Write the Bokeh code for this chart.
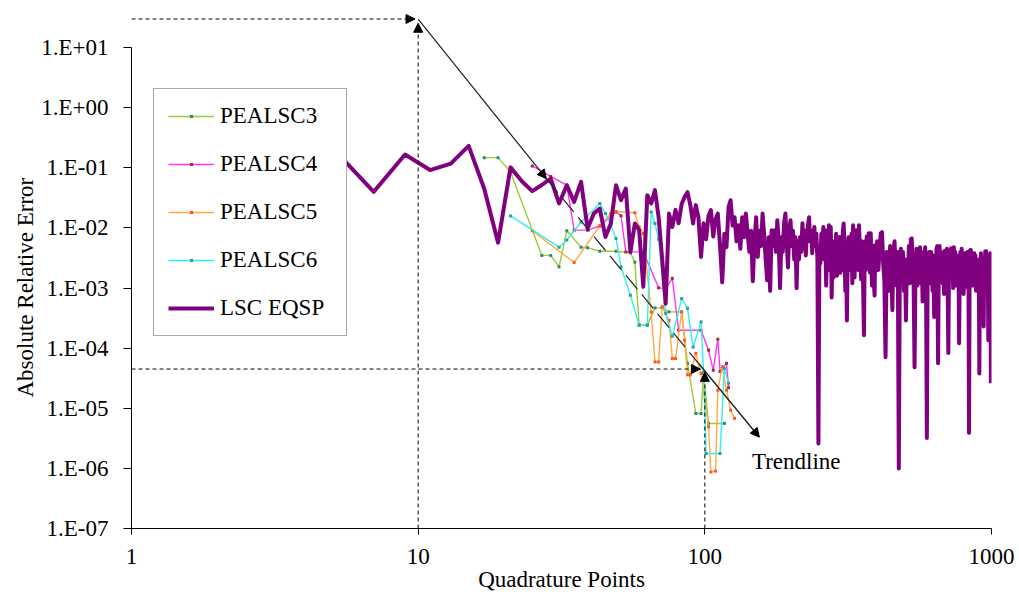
import math
from bokeh.plotting import figure
from bokeh.models import (Range1d, FixedTicker, CustomJSTickFormatter, Legend, LegendItem,
                          Arrow, NormalHead, Label, Title)
from bokeh.embed import file_html
from bokeh.resources import INLINE

FONT = "Liberation Serif"
FSIZE = "23px"

# ---------------- data ----------------
x_ticks = [1, 10, 100, 1000]
y_ticks = [1e-7, 1e-6, 1e-5, 1e-4, 1e-3, 1e-2, 1e-1, 1e0, 1e1]

pe3_x = [17, 19, 21, 27, 29, 31, 33, 37, 39, 43, 49, 55, 57, 59, 63, 67, 71, 75, 83, 87, 93, 97, 99, 103, 117]
pe3_y = [0.148, 0.148, 0.0857, 0.0035, 0.0035, 0.00225, 0.009, 0.0048, 0.0047, 0.0041, 0.0041, 0.00386,
         0.0027, 0.000242, 0.000242, 0.000469, 0.000469, 0.000402, 0.000402, 5.6e-5, 8.2e-6, 8.2e-6,
         3.8e-5, 5.6e-6, 5.6e-6]

pe4_x = [25, 29, 33, 35, 39, 43, 49, 51, 53, 61, 69, 73, 77, 81, 97, 103, 107, 111, 113, 119, 121]
pe4_y = [0.108, 0.072, 0.0515, 0.0092, 0.0092, 0.0108, 0.0185, 0.016, 0.0040, 0.0040, 0.00101, 0.00099,
         0.00145, 0.000199, 0.000199, 9.3e-5, 4.3e-5, 0.000141, 4.1e-5, 5.6e-5, 2.2e-5]

pe5_x = [25, 35, 43, 47, 49, 57, 59, 61, 65, 67, 69, 71, 75, 77, 79, 83, 85, 87, 89, 93, 97, 103, 105,
         109, 111, 115, 119, 123, 127]
pe5_y = [0.009, 0.00267, 0.0108, 0.0174, 0.0188, 0.0179, 0.0104, 0.0081, 0.0004, 5.9e-5, 5.9e-5, 0.00049,
         0.00029, 6.7e-5, 6.7e-5, 0.0004, 0.000136, 3.6e-5, 3.6e-5, 8.2e-5, 3.8e-5, 4.9e-6, 8.7e-7,
         9.0e-7, 2.0e-5, 4.9e-5, 2.0e-5, 9.3e-6, 6.8e-6]

pe6_x = [21, 31, 33, 37, 43, 45, 47, 49, 51, 55, 59, 63, 65, 67, 69, 73, 77, 83, 87, 91, 97, 99, 101,
         113, 117, 121]
pe6_y = [0.0159, 0.0048, 0.0063, 0.0126, 0.0256, 0.0174, 0.0111, 0.0067, 0.00225, 0.00076, 0.000242,
         0.000242, 0.0185, 0.0119, 0.0065, 0.00038, 0.000158, 0.00067, 0.00046, 0.000104, 0.000274,
         4.0e-5, 1.77e-6, 1.77e-6, 4.6e-5, 2.6e-5]

lsc_x_low = [3, 5, 7, 9, 11, 13, 15, 17, 19, 21, 23, 25, 27, 29, 31, 33, 35, 37, 39, 41, 43, 45, 47, 49,
             51, 53, 55, 57, 59, 61, 63, 65, 67, 69, 71, 73, 75, 77, 79, 81, 83, 85, 87, 89, 91, 93, 95]
lsc_y_low = [0.15, 0.22, 0.040, 0.167, 0.092, 0.118, 0.232, 0.045, 0.0057, 0.102, 0.060, 0.041, 0.052,
             0.066, 0.0256, 0.0515, 0.0272, 0.0585, 0.0098, 0.0174, 0.0211, 0.0071, 0.0119, 0.0515,
             0.029, 0.0454, 0.0040, 0.0119, 0.0092, 0.00105, 0.0352, 0.0256, 0.0426, 0.015, 0.003,
             0.00055, 0.0174, 0.0104, 0.020, 0.012, 0.025, 0.0329, 0.0394, 0.024, 0.0119, 0.024, 0.015]

lsc_x_mid = list(range(97, 396, 2))
lsc_y_mid = [0.0033, 0.012, 0.0065, 0.016, 0.0198, 0.0072, 0.014, 0.0174, 0.005, 0.00125,
             0.008, 0.0048, 0.0222, 0.029, 0.011, 0.0151, 0.006, 0.0111, 0.0045, 0.0151,
             0.007, 0.0174, 0.0082, 0.004, 0.009, 0.0013, 0.006, 0.0151, 0.0033, 0.009,
             0.005, 0.0174, 0.008, 0.003, 0.00135, 0.007, 0.0009, 0.0092, 0.005, 0.0092,
             0.004, 0.0135, 0.006, 0.001, 0.007, 0.004, 0.012, 0.0174, 0.006, 0.0022,
             0.009, 0.0135, 0.005, 0.009, 0.003, 0.007, 0.001, 0.006, 0.003, 0.0071,
             0.004, 0.012, 0.006, 0.009, 0.0035, 0.008, 0.011, 0.0151, 0.006, 0.009,
             0.0038, 0.007, 0.0104, 0.005, 0.008, 0.003, 2.6e-6, 0.005, 0.0026, 0.008,
             0.004, 0.0104, 0.003, 0.0092, 0.0011, 0.006, 0.002, 0.0111, 0.004, 0.0104,
             0.0007, 0.005, 0.0015, 0.006, 0.002, 0.008, 0.0016, 0.0065, 0.0025, 0.0071,
             0.0018, 0.006, 0.002, 0.009, 0.0119, 0.005, 0.0009, 0.004, 0.00029, 0.003,
             0.007, 0.002, 0.006, 0.0025, 0.008, 0.0012, 0.0111, 0.004, 0.0015, 0.007,
             0.0092, 0.003, 0.008, 0.002, 0.0111, 0.005, 0.0025, 0.0014, 0.006, 0.003,
             0.0008, 0.000164, 0.003, 0.006, 0.002, 0.0072, 0.0063, 0.0025, 0.0082, 0.004,
             0.0018, 0.0082, 0.003, 0.0011, 0.005, 0.0035, 0.0012, 0.00075, 0.0052, 0.002]

lsc_x_high = list(range(399, 998, 4))
lsc_y_high = [0.006, 0.002, 0.0045, 0.0082, 0.0085, 0.0025, 0.0013, 7.1e-5, 0.004, 0.0015,
              0.0009, 0.005, 0.002, 0.00043, 0.004, 0.006, 0.002, 0.0011, 0.004, 1.0e-6,
              0.0035, 0.0045, 0.0014, 0.004, 0.0009, 0.003, 0.00029, 0.003, 0.0015, 0.005,
              0.0012, 0.0065, 0.0067, 0.0022, 0.0012, 4.8e-5, 0.0018, 0.0045, 0.0011, 0.0036,
              0.0015, 0.0048, 0.0012, 0.003, 0.0006, 0.004, 0.0025, 0.0048, 0.0015, 3.2e-6,
              0.003, 0.0015, 0.004, 0.0012, 0.004, 0.002, 0.0009, 0.0035, 0.00033, 0.003,
              0.0016, 0.0045, 0.005, 5.6e-5, 0.003, 0.005, 0.0016, 0.004, 0.0025, 0.0012,
              0.0035, 0.0008, 0.0042, 0.004, 0.0018, 0.0045, 0.0012, 8.3e-5, 0.003, 0.0016,
              0.004, 0.0046, 0.0015, 0.0035, 0.001, 0.0048, 0.0018, 0.004, 0.0011, 0.0012,
              0.0035, 0.0016, 0.003, 0.000121, 0.0025, 0.004, 0.0016, 0.0045, 0.0012, 0.0035,
              0.0008, 0.0014, 0.0038, 0.0015, 0.0035, 0.0028, 0.004, 0.001, 0.0022, 3.9e-6,
              0.003, 0.0043, 0.0043, 0.0011, 0.0035, 0.0011, 0.003, 0.0012, 0.0038, 0.0013,
              0.0035, 0.0009, 0.003, 0.0014, 0.0022, 0.0009, 0.003, 3.8e-5, 0.0025, 0.0015,
              0.0038, 0.0012, 0.0033, 0.0009, 0.0021, 0.00023, 0.003, 0.0013, 0.0041, 0.0016,
              0.0041, 0.0011, 0.0035, 0.0018, 0.000136, 0.0009, 0.0032, 0.0013, 0.0038, 0.0015]
lsc_y_high = lsc_y_high[:len(lsc_x_high) - 2] + [0.0038, 2.6e-5]

lsc_x = lsc_x_low + lsc_x_mid + lsc_x_high
lsc_y = lsc_y_low + lsc_y_mid + lsc_y_high

top_point = (10, 30)
trend_start = (28, 0.066)
trend_end = (155, 3.3e-6)
bottom_point = (100, 4.5e-5)

# ---------------- figure ----------------
p = figure(width=1019, height=603, x_axis_type="log", y_axis_type="log",
           x_range=Range1d(1, 1000), y_range=Range1d(1e-7, 10 ** 1.785),
           output_backend="svg", toolbar_location=None,
           min_border_left=131, min_border_right=28, min_border_top=0, min_border_bottom=75)
p.outline_line_color = None
p.xgrid.visible = False
p.ygrid.visible = False
p.background_fill_color = "white"
p.border_fill_color = "white"

xa = p.xaxis[0]
xa.ticker = FixedTicker(ticks=x_ticks, minor_ticks=[])
xa.formatter = CustomJSTickFormatter(code="return String(Math.round(tick));")
xa.major_tick_in = 0
xa.major_tick_out = 6
xa.minor_tick_line_color = None
xa.major_label_standoff = 14
xa.axis_label = "Quadrature Points"
xa.axis_label_standoff = 0

ya = p.yaxis[0]
ya.ticker = FixedTicker(ticks=y_ticks, minor_ticks=[])
ya.formatter = CustomJSTickFormatter(code="""
const e = Math.round(Math.log10(tick));
const a = Math.abs(e);
return "1.E" + (e < 0 ? "-" : "+") + (a < 10 ? "0" + a : String(a));
""")
ya.bounds = (1e-7, 10)
ya.major_tick_in = 0
ya.major_tick_out = 8
ya.minor_tick_line_color = None
ya.major_label_standoff = 15

for ax in (xa, ya):
    ax.axis_line_color = "black"
    ax.axis_line_width = 1
    ax.major_tick_line_color = "black"
    ax.major_label_text_font = FONT
    ax.major_label_text_font_size = FSIZE
    ax.major_label_text_color = "black"
    ax.axis_label_text_font = FONT
    ax.axis_label_text_font_size = FSIZE
    ax.axis_label_text_font_style = "normal"
    ax.axis_label_text_color = "black"

# y axis title: rotated side title, starting above the frame bottom like the reference
p.add_layout(Title(text="Absolute Relative Error", align="left", offset=131, standoff=0,
                   vertical_align="middle", text_font=FONT, text_font_size=FSIZE,
                   text_font_style="normal", text_color="black"), "left")

# ---------------- series ----------------
series = [
    ("PEALSC3", pe3_x, pe3_y, "#9ACD32", "#2E8B7A"),
    ("PEALSC4", pe4_x, pe4_y, "#FF33FF", "#A0302A"),
    ("PEALSC5", pe5_x, pe5_y, "#FFAA44", "#FF5A1A"),
    ("PEALSC6", pe6_x, pe6_y, "#33EEEE", "#2AA0A0"),
]
items = []
for name, xs, ys, lc, mc in series:
    lr = p.line(xs, ys, line_color=lc, line_width=1.4)
    sr = p.scatter(xs, ys, marker="square", size=3, fill_color=mc, line_color=None)
    items.append(LegendItem(label=name, renderers=[lr, sr]))

lsc = p.line(lsc_x, lsc_y, line_color="#800080", line_width=4, line_join="round")
items.append(LegendItem(label="LSC EQSP", renderers=[lsc]))

# ---------------- annotations ----------------
def head():
    return NormalHead(size=9, fill_color="black", line_color="black", line_width=1)

short_dash = "4 3"
p.add_layout(Arrow(x_start=1, y_start=top_point[1], x_end=top_point[0] * 0.975, y_end=top_point[1],
                   line_dash=short_dash, line_width=1, line_color="black", end=head()))
p.add_layout(Arrow(x_start=top_point[0], y_start=1e-7, x_end=top_point[0], y_end=top_point[1] * 0.85,
                   line_dash=short_dash, line_width=1, line_color="black", end=head()))
p.add_layout(Arrow(x_start=1, y_start=bottom_point[1], x_end=bottom_point[0] * 0.965, y_end=bottom_point[1],
                   line_dash=short_dash, line_width=1, line_color="black", end=head()))
p.add_layout(Arrow(x_start=bottom_point[0], y_start=1e-7, x_end=bottom_point[0], y_end=bottom_point[1] * 0.88,
                   line_dash=short_dash, line_width=1, line_color="black", end=head()))
p.add_layout(Arrow(x_start=top_point[0], y_start=top_point[1], x_end=trend_start[0], y_end=trend_start[1],
                   line_width=1.2, line_color="#222222", end=head()))


def log_interp(x, a, b):
    t = (math.log10(x) - math.log10(a[0])) / (math.log10(b[0]) - math.log10(a[0]))
    return 10 ** (math.log10(a[1]) + t * (math.log10(b[1]) - math.log10(a[1])))


break_x = 95
break_y = log_interp(break_x, trend_start, trend_end)
p.line([trend_start[0], break_x], [trend_start[1], break_y], line_color="#222222", line_width=1.2,
       line_dash="18 7")
p.add_layout(Arrow(x_start=break_x, y_start=break_y, x_end=trend_end[0], y_end=trend_end[1],
                   line_width=1.4, line_color="#222222", end=head()))

p.add_layout(Label(x=146, y=1.3e-6, text="Trendline", text_font=FONT, text_font_size=FSIZE,
                   text_color="black", text_baseline="middle", text_align="left"))

# ---------------- legend ----------------
legend = Legend(items=items, location=(22, 192))
legend.label_text_font = FONT
legend.label_text_font_size = FSIZE
legend.label_text_color = "black"
legend.glyph_width = 46
legend.glyph_height = 8
legend.label_width = 112
legend.label_standoff = 6
legend.spacing = 22
legend.padding = 14
legend.margin = 0
legend.border_line_color = "#555555"
legend.border_line_width = 1.5
legend.background_fill_color = "white"
legend.background_fill_alpha = 1
p.add_layout(legend)

open("out.html", "w").write(file_html(p, INLINE))
